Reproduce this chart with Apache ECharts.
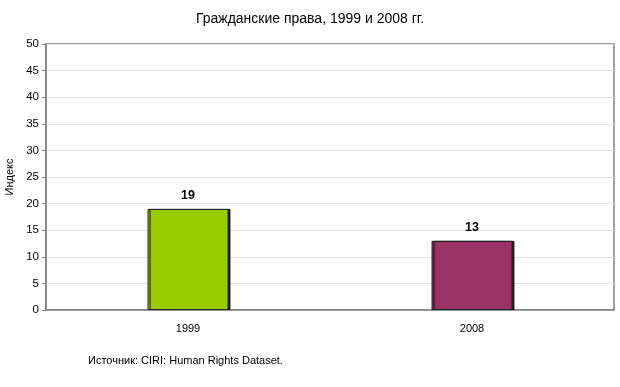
<!DOCTYPE html>
<html><head><meta charset="utf-8">
<script src="https://cdn.jsdelivr.net/npm/echarts@6/dist/echarts.min.js"></script>
<style>html,body{margin:0;padding:0;background:#fff}#c{width:620px;height:387px}</style>
</head><body><div id="c"></div>
<script>
const categories = ['1999', '2008'];
const values = [19, 13];
const barColors = ['#99cc00', '#993366'];
const yTicks = [0, 5, 10, 15, 20, 25, 30, 35, 40, 45, 50];
const titleText = 'Гражданские права, 1999 и 2008 гг.';
const yName = 'Индекс';
const sourceText = 'Источник: CIRI: Human Rights Dataset.';

const chart = echarts.init(document.getElementById('c'), null, {renderer: 'canvas'});
const font = 'Arial, "Liberation Sans", sans-serif';
chart.setOption({
  animation: false,
  title: [
    {text: titleText, left: 'center', top: 7, textStyle: {fontFamily: font, fontSize: 14, fontWeight: 'normal', color: '#000'}},
    {text: sourceText, left: 83, top: 350, textStyle: {fontFamily: font, fontSize: 11, fontWeight: 'normal', color: '#000'}}
  ],
  grid: {left: 46, right: 6, top: 44, bottom: 77, outerBoundsMode: 'none', show: true, borderColor: '#808080', borderWidth: 1.5, backgroundColor: 'transparent'},
  xAxis: {
    type: 'category', data: categories,
    axisLine: {show: true, lineStyle: {color: '#808080', width: 1.5}},
    axisTick: {show: false},
    axisLabel: {fontFamily: font, fontSize: 11, color: '#000', margin: 13}
  },
  yAxis: {
    type: 'value', min: yTicks[0], max: yTicks[yTicks.length - 1], interval: 5,
    name: yName, nameLocation: 'middle', nameGap: 31, nameRotate: 90,
    nameTextStyle: {fontFamily: font, fontSize: 11, color: '#000'},
    axisLine: {show: true, lineStyle: {color: '#808080', width: 1.5}},
    axisTick: {show: true, length: 4, lineStyle: {color: '#808080'}},
    axisLabel: {fontFamily: font, fontSize: 11.5, color: '#000', margin: 7},
    splitLine: {show: true, lineStyle: {color: '#e0e0e0', width: 1}}
  },
  series: [{
    type: 'bar', barWidth: '28.5%',
    data: values.map((v, i) => ({value: v, itemStyle: {color: barColors[i]}})),
    itemStyle: {borderColor: '#222', borderWidth: 1, shadowColor: 'rgba(0,0,0,0.85)', shadowOffsetX: 2, shadowOffsetY: 0, shadowBlur: 0},
    label: {show: true, position: 'top', distance: 7, fontFamily: font, fontSize: 12.5, fontWeight: 'bold', color: '#000'}
  }]
});
</script></body></html>
